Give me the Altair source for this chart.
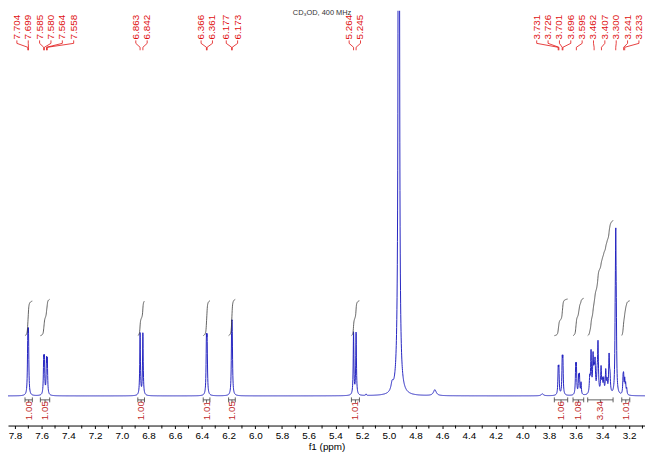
import numpy as np
import pandas as pd
import altair as alt

# ---------------- data ----------------
# resonance lines: position (ppm), intensity (a.u.), line width (ppm)
line_ppm = [7.704, 7.699, 7.585, 7.580, 7.564, 7.558,
            6.863, 6.842, 6.366, 6.361, 6.177, 6.173,
            5.264, 5.245, 5.170,
            4.975, 4.925, 4.925, 4.655, 3.850,
            3.731, 3.726, 3.701, 3.696,
            3.600, 3.595, 3.578, 3.572, 3.560,
            3.495, 3.485, 3.470, 3.462, 3.455, 3.440, 3.433, 3.410, 3.400,
            3.390, 3.375, 3.365, 3.350, 3.343,
            3.304, 3.300, 3.296,
            3.245, 3.241, 3.233, 3.226, 3.218]
line_int = [54, 54, 32, 32, 32, 32,
            63, 63, 50, 50, 55, 55,
            64, 64, 1.5,
            8, 3000, 25, 6, 2,
            24, 24, 32, 32,
            26, 26, 17, 18, 12,
            15, 42, 36, 18, 30, 15, 50, 26, 12,
            14, 23, 12, 38, 15,
            50, 135, 50,
            15, 16, 14, 10, 6]
line_w = ([0.006] * 15 + [0.02, 0.0045, 0.03, 0.025, 0.02]
          + [0.006] * 9 + [0.0075] * 14 + [0.006] * 8)

# peak-pick labels (ppm)
label_ppm = [7.704, 7.699, 7.585, 7.580, 7.564, 7.558, 6.863, 6.842,
             6.366, 6.361, 6.177, 6.173, 5.264, 5.245,
             3.731, 3.726, 3.701, 3.696, 3.595, 3.462, 3.407, 3.300, 3.241, 3.233]

# integral regions
int_from = [7.725, 7.610, 6.880, 6.390, 6.200, 5.280, 3.760, 3.620, 3.510, 3.255]
int_to = [7.670, 7.540, 6.830, 6.340, 6.150, 5.220, 3.660, 3.540, 3.320, 3.195]
int_val = [1.00, 1.05, 1.00, 1.01, 1.05, 1.01, 1.06, 1.08, 3.34, 1.01]

# axis ticks
major_ticks = [7.8, 7.6, 7.4, 7.2, 7.0, 6.8, 6.6, 6.4, 6.2, 6.0, 5.8, 5.6, 5.4,
               5.2, 5.0, 4.8, 4.6, 4.4, 4.2, 4.0, 3.8, 3.6, 3.4, 3.2]
minor_ticks = [7.7, 7.5, 7.3, 7.1, 6.9, 6.7, 6.5, 6.3, 6.1, 5.9, 5.7, 5.5, 5.3,
               5.1, 4.9, 4.7, 4.5, 4.3, 4.1, 3.9, 3.7, 3.5, 3.3, 3.1]

title_text = "CD₃OD, 400 MHz"

# ---------------- layout / style ----------------
W, H = 645, 420
DOM_HI, DOM_LO = 7.8524, 3.0809
Y_LO, Y_HI = -30, 390
BLUE = "#2424c0"
RED = "#e01010"
IRED = "#c02828"
GRAY = "#3a3a3a"

# spectrum trace from the line list
ppm = np.linspace(DOM_HI, DOM_LO, 4800)
spec = np.zeros_like(ppm)
for p0, h, w in zip(line_ppm, line_int, line_w):
    spec += h / (1.0 + (2.0 * (ppm - p0) / w) ** 2)
spec_df = pd.DataFrame({"ppm": ppm, "I": spec, "o": np.arange(len(ppm))})

# integral curves (running sum of the trace in each region)
INT_BASE, INT_UNIT = 61, 35
rows = []
for k, (a, b, v) in enumerate(zip(int_from, int_to, int_val)):
    m = (ppm <= a) & (ppm >= b)
    seg = spec[m]
    cs = np.cumsum(seg)
    cs = cs / cs[-1]
    for j, (pp, c) in enumerate(zip(ppm[m], cs)):
        rows.append({"ppm": pp, "I": INT_BASE + c * v * INT_UNIT, "k": k, "o": j})
int_df = pd.DataFrame(rows)

int_lab = pd.DataFrame({
    "a": int_from, "b": int_to,
    "mid": [(a + b) / 2 for a, b in zip(int_from, int_to)],
    "txt": [f"{v:.2f}" for v in int_val],
})


# peak labels spread apart like the acquisition software does
def to_px(p):
    return (DOM_HI - np.asarray(p)) / (DOM_HI - DOM_LO) * W


def to_ppm(px):
    return DOM_HI - np.asarray(px) / W * (DOM_HI - DOM_LO)


def spread(ideal, gap, lo):
    order = np.argsort(ideal)
    clusters = [[ideal[i]] for i in order]

    def start(c):
        return float(np.mean(c)) - gap * (len(c) - 1) / 2

    merged = True
    while merged:
        merged = False
        for i in range(len(clusters) - 1):
            a, b = clusters[i], clusters[i + 1]
            if start(b) - (start(a) + gap * (len(a) - 1)) < gap:
                clusters[i] = a + b
                del clusters[i + 1]
                merged = True
                break
    out = []
    for c in clusters:
        s = max(start(c), lo)
        out += [s + gap * k for k in range(len(c))]
    res = np.empty(len(ideal))
    res[order] = out
    return res


peak_px = to_px(label_ppm)
lab_px = spread(list(peak_px), 11.5, 9.0)
lab_ppm = to_ppm(lab_px)
Y_LAB = 361
lab_df = pd.DataFrame({"x": lab_ppm, "txt": [f"{p:.3f}" for p in label_ppm]})
conn = []
for lx, px in zip(lab_ppm, label_ppm):
    conn.append({"x": lx, "x2": lx, "y": Y_LAB - 1, "y2": Y_LAB - 4})
    conn.append({"x": lx, "x2": px, "y": Y_LAB - 4, "y2": Y_LAB - 8})
    conn.append({"x": px, "x2": px, "y": Y_LAB - 8, "y2": Y_LAB - 11})
conn_df = pd.DataFrame(conn)

# ---------------- chart ----------------
xscale = alt.Scale(domain=[DOM_LO, DOM_HI], reverse=True, nice=False, zero=False)
yscale = alt.Scale(domain=[Y_LO, Y_HI], nice=False, zero=False)
xaxis = alt.Axis(values=major_ticks, format=".1f",
                 title="f1 (ppm)", titleFontWeight="normal", titleFontSize=10,
                 titleColor="#000", titlePadding=1,
                 labelFontSize=10, labelColor="#000", labelPadding=2,
                 tickSize=3, tickColor="#000", domainColor="#000",
                 grid=False, labelFlush=False, labelOverlap=False)


def XF(field):
    return alt.X(field, scale=xscale, axis=xaxis)


Y = alt.Y("I:Q", scale=yscale, axis=None)

spectrum = alt.Chart(spec_df).mark_line(color=BLUE, strokeWidth=1, clip=True).encode(
    x=XF("ppm:Q"), y=Y, order="o:Q")

minor = alt.Chart(pd.DataFrame({"t": minor_ticks})).mark_rule(color="#000", strokeWidth=1).encode(
    x=XF("t:Q"), y=alt.value(H), y2=alt.value(H + 3))

integrals = alt.Chart(int_df).mark_line(color=GRAY, strokeWidth=0.8, clip=True).encode(
    x=XF("ppm:Q"), y=Y, detail="k:N", order="o:Q")

bracket = alt.Chart(int_lab).mark_rule(color=GRAY, strokeWidth=0.8).encode(
    x=XF("a:Q"), x2="b:Q", y=alt.datum(-4, scale=yscale, axis=None))
end_a = alt.Chart(int_lab).mark_rule(color=GRAY, strokeWidth=0.8).encode(
    x=XF("a:Q"), y=alt.datum(-1.5, scale=yscale, axis=None), y2=alt.datum(-6.5))
end_b = alt.Chart(int_lab).mark_rule(color=GRAY, strokeWidth=0.8).encode(
    x=XF("b:Q"), y=alt.datum(-1.5, scale=yscale, axis=None), y2=alt.datum(-6.5))
mid_t = alt.Chart(int_lab).mark_rule(color=GRAY, strokeWidth=0.8).encode(
    x=XF("mid:Q"), y=alt.datum(-4, scale=yscale, axis=None), y2=alt.datum(-7))
int_text = alt.Chart(int_lab).mark_text(angle=270, fontSize=10, color=IRED,
                                        align="center", baseline="middle").encode(
    x=XF("mid:Q"), y=alt.datum(-15, scale=yscale, axis=None), text="txt:N")

peak_text = alt.Chart(lab_df).mark_text(angle=270, fontSize=10, color=RED,
                                        align="left", baseline="middle").encode(
    x=XF("x:Q"), y=alt.datum(Y_LAB, scale=yscale, axis=None), text="txt:N")
connectors = alt.Chart(conn_df).mark_rule(color=RED, strokeWidth=0.8).encode(
    x=XF("x:Q"), x2="x2:Q",
    y=alt.Y("y:Q", scale=yscale, axis=None), y2="y2:Q")

title = alt.Chart(pd.DataFrame({"t": [title_text]})).mark_text(
    fontSize=7.5, color="#333", align="center", baseline="top").encode(
    x=alt.value(318), y=alt.value(-1.5), text="t:N")

chart = alt.layer(spectrum, minor, integrals, bracket, end_a, end_b, mid_t, int_text,
                  connectors, peak_text, title).properties(
    width=W, height=H,
    autosize=alt.AutoSizeParams(type="none"),
    padding={"left": 0, "top": 0, "right": 0, "bottom": 24},
).configure(font="Liberation Sans").configure_view(stroke=None)

chart.save("out.html", embed_options={"renderer": "svg", "actions": False})
